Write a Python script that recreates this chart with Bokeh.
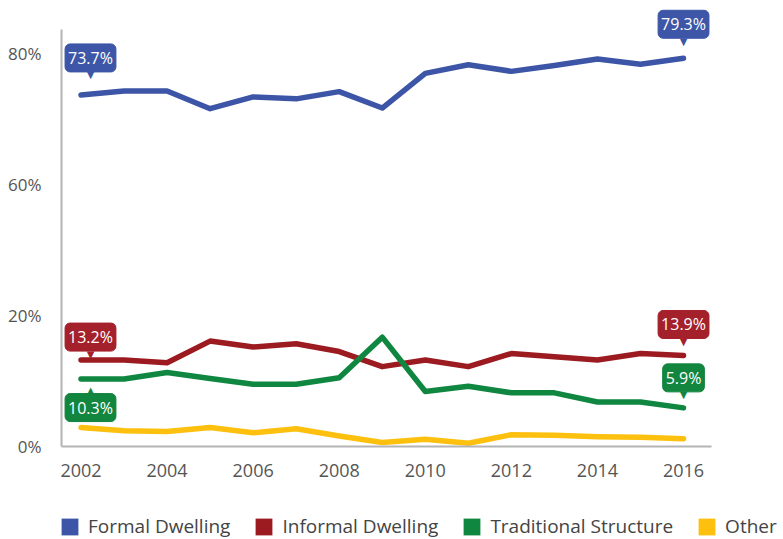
from bokeh.plotting import figure
from bokeh.layouts import column
from bokeh.models import Range1d, FixedTicker, Label, Legend, LegendItem
from bokeh.embed import file_html
from bokeh.resources import INLINE

# ---- data (percent of households) ----
years = list(range(2002, 2017))
formal = [73.7, 74.3, 74.3, 71.6, 73.4, 73.1, 74.2, 71.7, 77.0, 78.3, 77.3, 78.2, 79.2, 78.4, 79.3]
informal = [13.2, 13.2, 12.8, 16.1, 15.2, 15.7, 14.5, 12.2, 13.2, 12.2, 14.2, 13.7, 13.2, 14.2, 13.9]
traditional = [10.3, 10.3, 11.3, 10.4, 9.5, 9.5, 10.5, 16.7, 8.4, 9.2, 8.2, 8.2, 6.8, 6.8, 5.9]
other = [2.9, 2.4, 2.3, 2.9, 2.1, 2.7, 1.6, 0.6, 1.1, 0.5, 1.8, 1.7, 1.5, 1.4, 1.2]
series_names = ["Formal Dwelling", "Informal Dwelling", "Traditional Structure", "Other"]
x_ticks = [2002, 2004, 2006, 2008, 2010, 2012, 2014, 2016]
y_tick_values = [0, 20, 60, 80]

COLORS = ["#3c55a6", "#9c1b21", "#0f8740", "#fdc00f"]
BOX_COLORS = ["#3e56a7", "#a4202a", "#12853f"]
FONT = "Open Sans"
NAN = float("nan")


def disp(v):
    """Broken value axis: 0-20 full scale, 20-60 compressed by half, 60-80 full scale."""
    if v <= 20:
        return v
    if v <= 60:
        return 20 + (v - 20) / 2.0
    return 40 + (v - 60)


AXIS_TOP = 63.7
p = figure(width=783, height=493, output_backend="svg", toolbar_location=None,
           x_range=Range1d(2001.547, 2016.65), y_range=Range1d(0, 67.36),
           min_border_left=61, min_border_right=72, min_border_top=5, min_border_bottom=47)
p.frame_align = False
p.outline_line_color = None
p.xgrid.visible = False
p.ygrid.visible = False
p.background_fill_color = "white"
p.border_fill_color = "white"

for ax in (p.xaxis[0], p.yaxis[0]):
    ax.axis_line_color = "#b4b4b4"
    ax.axis_line_width = 2
    ax.major_tick_line_color = None
    ax.minor_tick_line_color = None
    ax.major_tick_out = 0
    ax.major_tick_in = 0
    ax.major_label_text_font = FONT
    ax.major_label_text_color = "#555555"

p.xaxis.ticker = FixedTicker(ticks=x_ticks)
p.xaxis.major_label_standoff = 17
p.xaxis.major_label_text_font_size = "18px"
p.yaxis.ticker = FixedTicker(ticks=[disp(v) for v in y_tick_values])
p.yaxis.major_label_overrides = {disp(v): f"{v}%" for v in y_tick_values}
p.yaxis.major_label_standoff = 20
p.yaxis.major_label_text_font_size = "17px"
p.yaxis.bounds = (0, AXIS_TOP)

all_series = [formal, informal, traditional, other]
for vals, col in zip(all_series, COLORS):
    p.line(years, [disp(v) for v in vals], line_color=col, line_width=5.5,
           line_cap="round", line_join="round")

# ---- callout labels at first/last points ----
# (series index, point index, dx, box dy (up +), pointer direction)
callouts = [
    (0, 0, 9.5, 37, "down"),
    (0, -1, 0, 34, "down"),
    (1, 0, 9.5, 23, "down"),
    (1, -1, 0, 31, "down"),
    (2, 0, 9.5, -28.5, "up"),
    (2, -1, 0, 30, "down"),
]
for si, pi, dx, dy, direction in callouts:
    vals = all_series[si]
    xv = years[pi]
    yv = disp(vals[pi])
    col = BOX_COLORS[si]
    p.add_layout(Label(x=xv, y=yv, x_offset=dx, y_offset=dy, text=f"{vals[pi]}%",
                       text_align="center", text_baseline="middle",
                       text_font=FONT, text_font_size="16px", text_color="white",
                       background_fill_color=col, border_line_color=col,
                       border_radius=5, padding=3))
    pdy = dy - 17 if direction == "down" else dy + 17
    p.add_layout(Label(x=xv, y=yv, x_offset=dx, y_offset=pdy,
                       text="\u25BC" if direction == "down" else "\u25B2",
                       text_align="center", text_baseline="middle",
                       text_font="DejaVu Sans", text_font_size="10px", text_color=col))

# ---- legend strip (separate figure, same width, frame spans whole strip) ----
lg = figure(width=783, height=46, output_backend="svg", toolbar_location=None,
            x_range=Range1d(0, 1), y_range=Range1d(0, 1),
            x_axis_type=None, y_axis_type=None,
            min_border_left=0, min_border_right=0, min_border_top=0, min_border_bottom=0)
lg.frame_align = False
lg.outline_line_color = None
lg.xgrid.visible = False
lg.ygrid.visible = False
items = []
for name, col in zip(series_names, COLORS):
    r = lg.quad(left=[NAN], right=[NAN], top=[NAN], bottom=[NAN], fill_color=col, line_color=None)
    items.append(LegendItem(label=name, renderers=[r]))
legend = Legend(items=items, orientation="horizontal", location=(59, 0),
                glyph_width=21, glyph_height=21, label_standoff=8, spacing=23,
                padding=0, margin=0, border_line_color=None, background_fill_alpha=0,
                label_text_font=FONT, label_text_font_size="19px", label_text_color="#444444")
lg.add_layout(legend)

layout = column(p, lg, spacing=0)
open("out.html", "w").write(file_html(layout, INLINE))
